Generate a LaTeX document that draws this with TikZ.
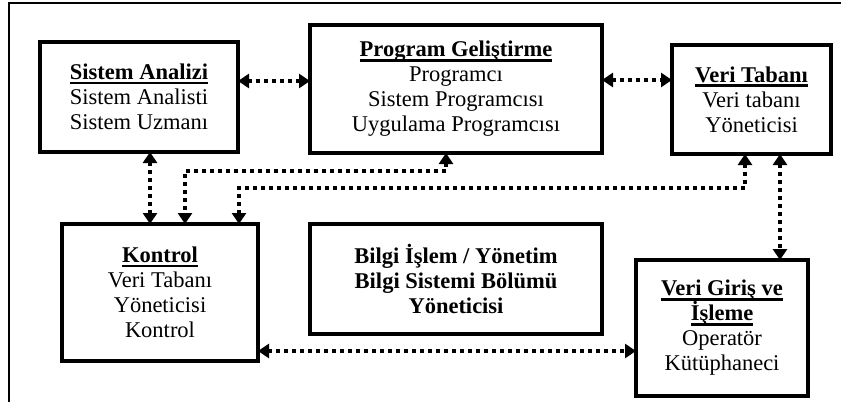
\documentclass[tikz,border=0pt]{standalone}
\usepackage{fontspec}
\setmainfont{Liberation Serif}
\usetikzlibrary{arrows.meta}
\newcommand{\myul}[1]{\setbox0\hbox{#1}\rlap{\rule[-4.7pt]{\wd0}{2.4pt}}\box0}
\begin{document}
\begin{tikzpicture}[x=1pt,y=-1pt,
  box/.style={draw, line width=3.4pt, align=center, inner sep=0pt, outer sep=0pt,
    font=\fontsize{22.5}{25}\selectfont},
  conn/.style={line width=3.5pt, dash pattern=on 3.5pt off 4.5pt,
    {Triangle[length=11pt,width=14pt]}-{Triangle[length=11pt,width=14pt]}},
  frameline/.style={line width=2.2pt}]
\useasboundingbox (0,0) rectangle (841,402);
\coordinate (f0) at (9,3);
\coordinate (f1) at (841,3);
\coordinate (f2) at (9,402);
\draw[frameline] (f1) -- (f0) -- (f2);

\node[box, minimum width=198pt, minimum height=110pt] (sa) at (139,97)
  {\myul{\textbf{Sistem Analizi}}\\Sistem Analisti\\Sistem Uzmanı};
\node[box, minimum width=292pt, minimum height=128pt] (pg) at (456,89)
  {\myul{\textbf{Program Geliştirme}}\\Programcı\\Sistem Programcısı\\Uygulama Programcısı};
\node[box, minimum width=159pt, minimum height=109pt] (vt) at (751.5,99.5)
  {\myul{\textbf{Veri Tabanı}}\\Veri tabanı\\Yöneticisi};
\node[box, minimum width=196pt, minimum height=137pt] (ko) at (160,292.5)
  {\myul{\textbf{Kontrol}}\\Veri Tabanı\\Yöneticisi\\Kontrol};
\node[box, minimum width=292pt, minimum height=110pt] (bi) at (456,279)
  {\textbf{Bilgi İşlem / Yönetim}\\\textbf{Bilgi Sistemi Bölümü}\\\textbf{Yöneticisi}};
\node[box, minimum width=172pt, minimum height=136pt] (vg) at (722,328)
  {\myul{\textbf{Veri Giriş ve}}\\\myul{\textbf{İşleme}}\\Operatör\\Kütüphaneci};

\coordinate (r1) at (0,81);
\coordinate (r2) at (0,80);
\coordinate (r7) at (0,351);
\coordinate (v3) at (150,0);
\coordinate (v6) at (780,0);
\coordinate (b1) at (446,171);
\coordinate (b2) at (185,171);
\coordinate (c1) at (745,188);
\coordinate (c2) at (239,188);

\draw[conn] (sa.east |- r1) -- (pg.west |- r1);
\draw[conn] (pg.east |- r2) -- (vt.west |- r2);
\draw[conn] (v3 |- sa.south) -- (v3 |- ko.north);
\draw[conn] (b1 |- pg.south) -- (b1) -- (b2) -- (b2 |- ko.north);
\draw[conn] (c1 |- vt.south) -- (c1) -- (c2) -- (c2 |- ko.north);
\draw[conn] (v6 |- vt.south) -- (v6 |- vg.north);
\draw[conn] (ko.east |- r7) -- (vg.west |- r7);
\end{tikzpicture}
\end{document}
